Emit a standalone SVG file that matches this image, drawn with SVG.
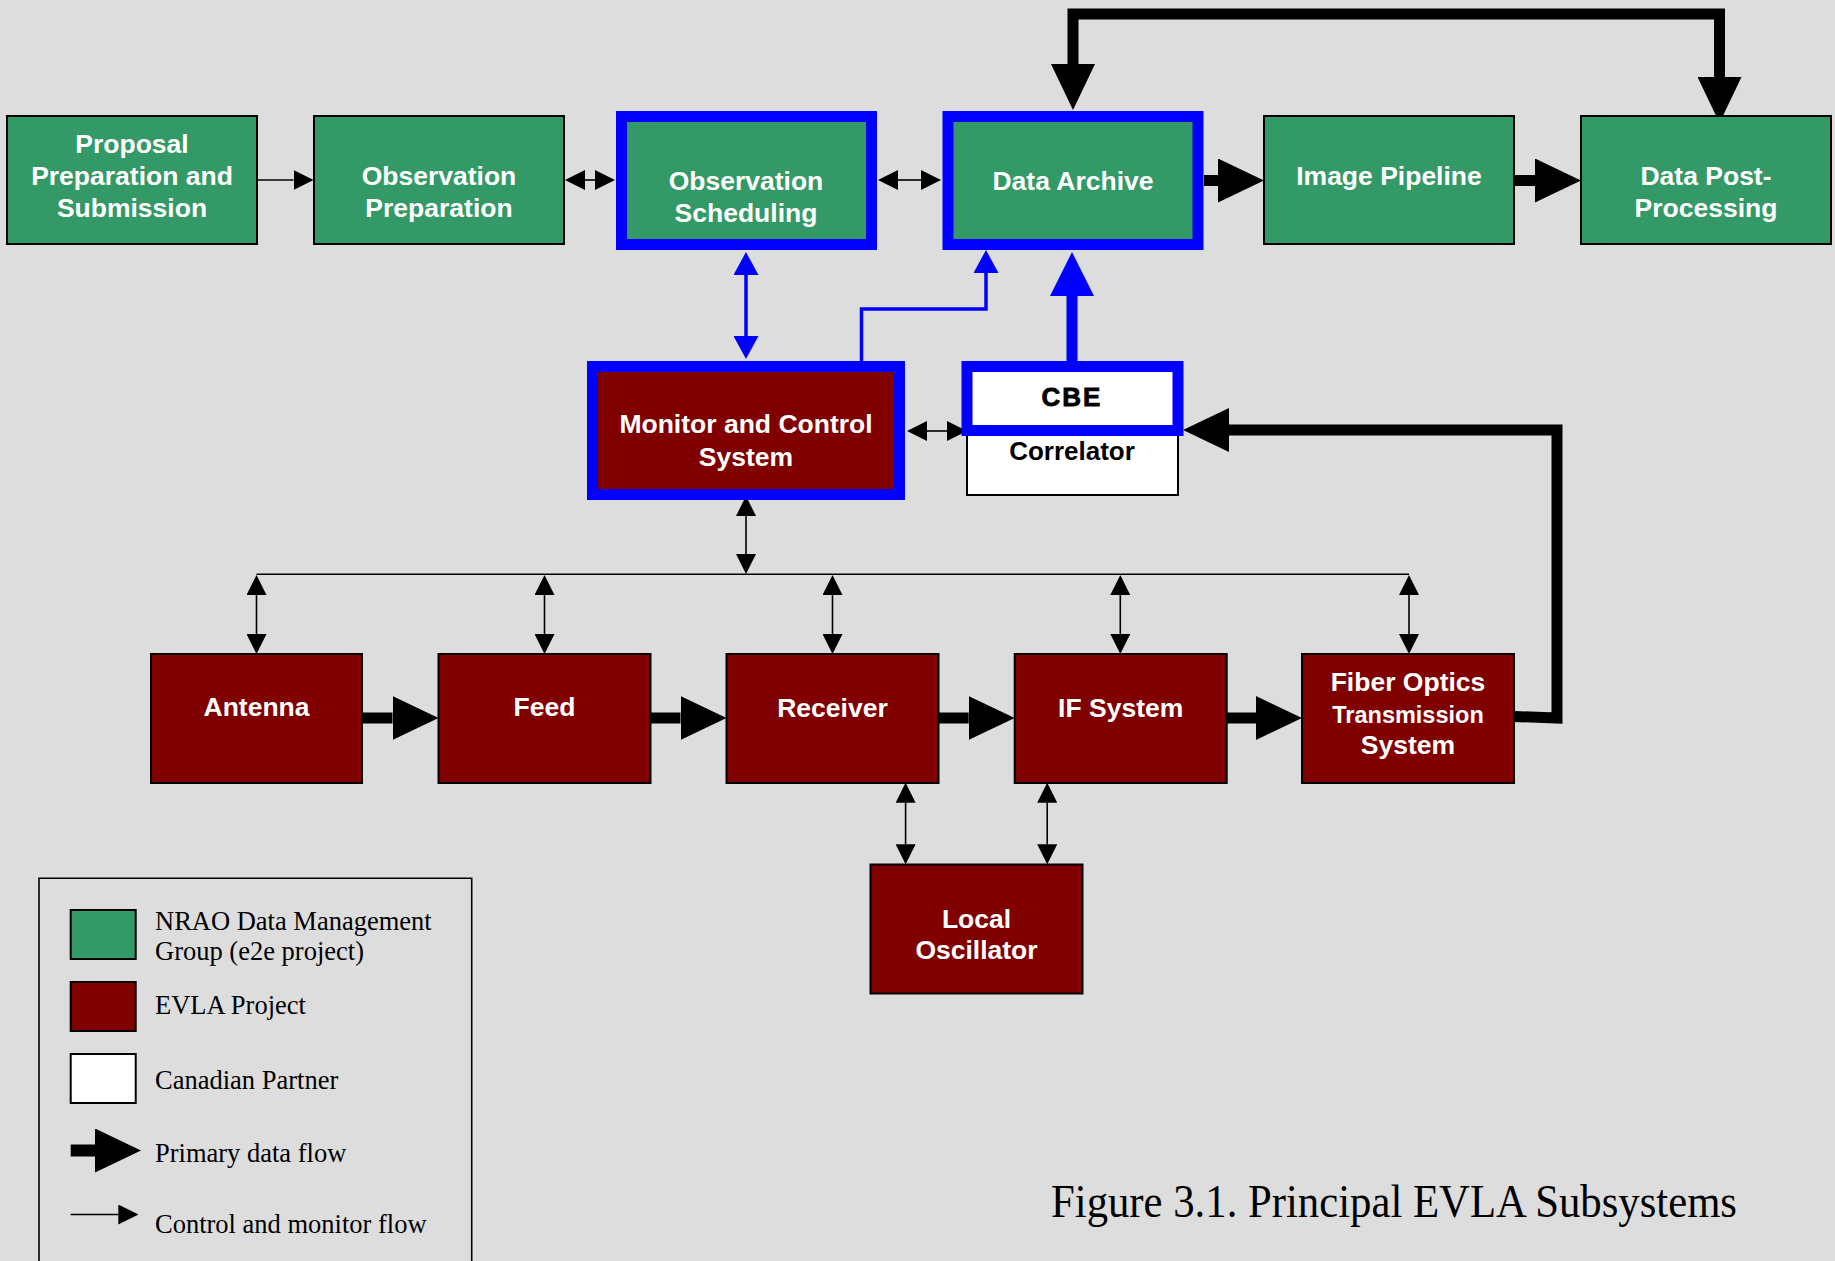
<svg xmlns="http://www.w3.org/2000/svg" width="1835" height="1261" viewBox="0 0 1835 1261">
<defs>
<style>
.g{fill:#339966;stroke:#000;stroke-width:2}
.r{fill:#800000;stroke:#000;stroke-width:2}
.w{fill:#fff;stroke:#000;stroke-width:2}
.gb{fill:#339966;stroke:#0000ff;stroke-width:11}
.rb{fill:#800000;stroke:#0000ff;stroke-width:11}
.wb{fill:#fff;stroke:#0000ff;stroke-width:11}
.t{font-family:"Liberation Sans",Arial,sans-serif;font-weight:bold;font-size:26.5px;fill:#fff;text-anchor:middle}
.tk{font-family:"Liberation Sans",Arial,sans-serif;font-weight:bold;font-size:26px;fill:#000;text-anchor:middle}
.lg{font-family:"Liberation Serif","Times New Roman",serif;font-size:26.5px;fill:#000}
.c{fill:none;stroke:#000;stroke-width:1.6}
.ct{fill:none;stroke:#000;stroke-width:11;stroke-linejoin:miter}
.cb{fill:none;stroke:#0000ff;stroke-width:3.5}
.cbt{fill:none;stroke:#0000ff;stroke-width:11}
</style>
<marker id="ah" viewBox="0 -10 20 20" markerWidth="20" markerHeight="20" refX="0" refY="0" markerUnits="userSpaceOnUse" orient="auto-start-reverse"><path d="M0,-10 L20,0 L0,10 z" fill="#000"/></marker>
<marker id="ahT" viewBox="0 -22 46 44" markerWidth="46" markerHeight="44" refX="0" refY="0" markerUnits="userSpaceOnUse" orient="auto-start-reverse"><path d="M0,-22 L46,0 L0,22 z" fill="#000"/></marker>
<marker id="ahB" viewBox="0 -12.5 23 25" markerWidth="23" markerHeight="25" refX="0" refY="0" markerUnits="userSpaceOnUse" orient="auto-start-reverse"><path d="M0,-12.5 L23,0 L0,12.5 z" fill="#0000ff"/></marker>
<marker id="ahBT" viewBox="0 -22 44 44" markerWidth="44" markerHeight="44" refX="0" refY="0" markerUnits="userSpaceOnUse" orient="auto-start-reverse"><path d="M0,-22 L44,0 L0,22 z" fill="#0000ff"/></marker>
</defs>
<rect x="0" y="0" width="1835" height="1261" fill="#dddddd"/>

<g id="connectors">
<path class="c" d="M257,180 L293.5,180" marker-end="url(#ah)"/>
<path class="c" d="M585,180 L595,180" marker-start="url(#ah)" marker-end="url(#ah)"/>
<path class="c" d="M898,180 L921,180" marker-start="url(#ah)" marker-end="url(#ah)"/>
<path class="ct" d="M1204,180.5 L1218,180.5" marker-end="url(#ahT)"/>
<path class="ct" d="M1514,180.5 L1535,180.5" marker-end="url(#ahT)"/>
<path class="ct" d="M1073,64 L1073,14 L1719.5,14 L1719.5,77" marker-start="url(#ahT)" marker-end="url(#ahT)"/>
<path class="cb" d="M746,275 L746,336" marker-start="url(#ahB)" marker-end="url(#ahB)"/>
<path class="cb" d="M861.5,361 L861.5,309 L986,309 L986,273" marker-end="url(#ahB)"/>
<path class="cbt" d="M1072,361 L1072,296" marker-end="url(#ahBT)"/>
<path class="c" d="M927,431 L947,431" marker-start="url(#ah)" marker-end="url(#ah)"/>
<path class="ct" d="M1514,716.5 L1557,718 L1557,430 L1229,430" marker-end="url(#ahT)"/>
<path class="c" d="M746,516 L746,554" marker-start="url(#ah)" marker-end="url(#ah)"/>
<path class="c" d="M256.5,574.3 L1409,574.3"/>
<path class="c" d="M256.5,595 L256.5,634" marker-start="url(#ah)" marker-end="url(#ah)"/>
<path class="c" d="M544.5,595 L544.5,634" marker-start="url(#ah)" marker-end="url(#ah)"/>
<path class="c" d="M832.5,595 L832.5,634" marker-start="url(#ah)" marker-end="url(#ah)"/>
<path class="c" d="M1120.3,595 L1120.3,634" marker-start="url(#ah)" marker-end="url(#ah)"/>
<path class="c" d="M1409,595 L1409,634" marker-start="url(#ah)" marker-end="url(#ah)"/>
<path class="ct" d="M362,718 L392.5,718" marker-end="url(#ahT)"/>
<path class="ct" d="M650.5,718 L680.5,718" marker-end="url(#ahT)"/>
<path class="ct" d="M938.5,718 L968.7,718" marker-end="url(#ahT)"/>
<path class="ct" d="M1226.7,718 L1256,718" marker-end="url(#ahT)"/>
<path class="c" d="M905.6,802.7 L905.6,844.3" marker-start="url(#ah)" marker-end="url(#ah)"/>
<path class="c" d="M1047.2,802.7 L1047.2,844.3" marker-start="url(#ah)" marker-end="url(#ah)"/>
</g>

<g id="proposal"><rect class="g" x="7" y="116" width="250" height="128"/><text class="t" x="132" y="153">Proposal</text><text class="t" x="132" y="185">Preparation and</text><text class="t" x="132" y="216.5">Submission</text></g>
<g id="obs-prep"><rect class="g" x="314" y="116" width="250" height="128"/><text class="t" x="439" y="185">Observation</text><text class="t" x="439" y="216.7">Preparation</text></g>
<g id="obs-sched"><rect class="gb" x="621.5" y="116.5" width="250" height="128"/><text class="t" x="746" y="190">Observation</text><text class="t" x="746" y="221.5">Scheduling</text></g>
<g id="data-archive"><rect class="gb" x="948" y="116.5" width="250" height="128"/><text class="t" x="1073" y="190">Data Archive</text></g>
<g id="image-pipeline"><rect class="g" x="1264" y="116" width="250" height="128"/><text class="t" x="1389" y="185">Image Pipeline</text></g>
<g id="data-post"><rect class="g" x="1581" y="116" width="250" height="128"/><text class="t" x="1706" y="185">Data Post-</text><text class="t" x="1706" y="216.7">Processing</text></g>
<g id="mcs"><rect class="rb" x="592.5" y="366.5" width="307" height="128"/><text class="t" x="746" y="433">Monitor and Control</text><text class="t" x="746" y="466">System</text></g>
<g id="correlator"><rect class="w" x="967" y="366" width="211" height="129"/><rect class="wb" x="967" y="366.5" width="211" height="64"/><text class="tk" x="1072" y="406" style="letter-spacing:2px;stroke:#000;stroke-width:0.8">CBE</text><text class="tk" x="1072" y="460">Correlator</text></g>
<g id="antenna"><rect class="r" x="151" y="654" width="211" height="129"/><text class="t" x="256.5" y="716">Antenna</text></g>
<g id="feed"><rect class="r" x="438.5" y="654" width="212" height="129"/><text class="t" x="544.5" y="716">Feed</text></g>
<g id="receiver"><rect class="r" x="726.5" y="654" width="212" height="129"/><text class="t" x="832.5" y="716.7">Receiver</text></g>
<g id="if-system"><rect class="r" x="1014.7" y="654" width="212" height="129"/><text class="t" x="1120.7" y="716.7">IF System</text></g>
<g id="fiber"><rect class="r" x="1302" y="654" width="212" height="129"/><text class="t" x="1408" y="690.7">Fiber Optics</text><text class="t" x="1408" y="722.7" style="font-size:23.5px">Transmission</text><text class="t" x="1408" y="754">System</text></g>
<g id="local-osc"><rect class="r" x="870.5" y="864.5" width="212" height="129"/><text class="t" x="976.5" y="927.7">Local</text><text class="t" x="976.5" y="959.3">Oscillator</text></g>

<g id="legend">
<path d="M39,1262 L39,878.3 L471.7,878.3 L471.7,1262" fill="none" stroke="#000" stroke-width="1.6"/>
<rect class="g" x="70.7" y="910" width="65" height="49"/>
<rect class="r" x="70.7" y="982" width="65" height="49"/>
<rect class="w" x="70.7" y="1054" width="65" height="49"/>
<path d="M70.7,1150.5 L95,1150.5" fill="none" stroke="#000" stroke-width="12" marker-end="url(#ahT)"/>
<path class="c" d="M70.7,1214.5 L118.3,1214.5" marker-end="url(#ah)"/>
<text class="lg" x="155" y="930">NRAO Data Management</text>
<text class="lg" x="155" y="960">Group (e2e project)</text>
<text class="lg" x="155" y="1014">EVLA Project</text>
<text class="lg" x="155" y="1089.3">Canadian Partner</text>
<text class="lg" x="155" y="1161.7">Primary data flow</text>
<text class="lg" x="155" y="1232.7">Control and monitor flow</text>
</g>
<text id="caption" x="1051" y="1216.7" font-family="'Liberation Serif','Times New Roman',serif" font-size="46" textLength="686" lengthAdjust="spacingAndGlyphs" fill="#000">Figure 3.1. Principal EVLA Subsystems</text>
</svg>
